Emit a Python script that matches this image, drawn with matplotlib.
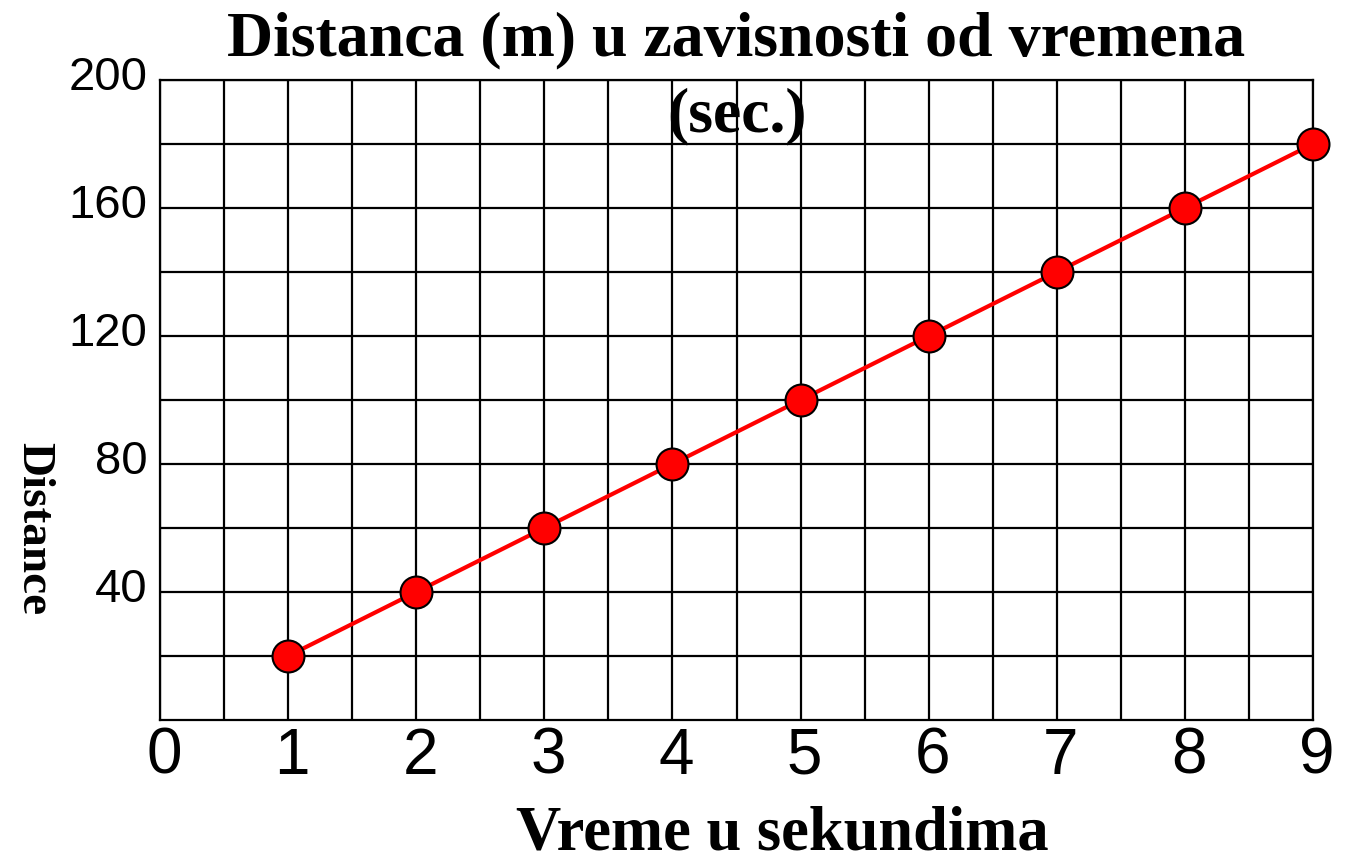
import matplotlib
matplotlib.use("Agg")
import matplotlib.pyplot as plt
import matplotlib.transforms as mtransforms

# Data
time_s = [1, 2, 3, 4, 5, 6, 7, 8, 9]
distance_m = [20, 40, 60, 80, 100, 120, 140, 160, 180]
x_tick_labels = ["0", "1", "2", "3", "4", "5", "6", "7", "8", "9"]
y_tick_values = [40, 80, 120, 160, 200]
y_minor_values = [20, 60, 100, 140, 180]
title_line1 = "Distanca (m) u zavisnosti od vremena"
title_line2 = "(sec.)"
x_label = "Vreme u sekundima"
y_label = "Distance"

W, H = 1346, 858
fig = plt.figure(figsize=(W / 100, H / 100), dpi=100)
L, R, T, B = 160, 1313, 80, 720
ax = fig.add_axes([L / W, 1 - B / H, (R - L) / W, (B - T) / H])

ax.plot(time_s, distance_m, color="#ff0000", lw=3, marker="o", ms=23,
        mfc="#ff0000", mec="black", mew=1.5, clip_on=False, zorder=5)

ax.set_xlim(0, 9)
ax.set_ylim(0, 200)
ax.set_xticks(range(10))
ax.set_xticklabels(x_tick_labels)
ax.set_xticks([i + 0.5 for i in range(9)], minor=True)
ax.set_yticks(y_tick_values)
ax.set_yticklabels([str(v) for v in y_tick_values])
ax.set_yticks(y_minor_values, minor=True)

ax.grid(True, which="both", color="black", lw=1.6)
ax.set_axisbelow(True)
for s in ax.spines.values():
    s.set_color("black")
    s.set_linewidth(1.6)

ax.tick_params(which="both", length=0)
ax.tick_params(axis="x", pad=5, labelsize=46)
ax.tick_params(axis="y", pad=9, labelsize=34)
for lab in ax.get_xticklabels():
    lab.set_fontfamily("Liberation Sans")
    lab.set_transform(lab.get_transform() + mtransforms.ScaledTranslation(4 / 100, 0, fig.dpi_scale_trans))
for lab in ax.get_yticklabels():
    lab.set_fontfamily("Liberation Sans")
    lab.set_transform(lab.get_transform() + mtransforms.ScaledTranslation(0, 7 / 100, fig.dpi_scale_trans))

serif = "Liberation Serif"
cx = (L + R) / 2 / W
fig.text(cx, 1 - 55 / H, title_line1, ha="center", va="baseline",
         fontsize=46, fontweight="bold", family=serif)
fig.text(cx, 1 - 131 / H, title_line2, ha="center", va="baseline",
         fontsize=46, fontweight="bold", family=serif)
fig.text(782 / W, 1 - 850 / H, x_label, ha="center", va="baseline",
         fontsize=45, fontweight="bold", family=serif)
fig.text(33 / W, 1 - 529 / H, y_label, ha="center", va="center", rotation=270,
         fontsize=34, fontweight="bold", family=serif)

fig.savefig("out.png", dpi=100)
